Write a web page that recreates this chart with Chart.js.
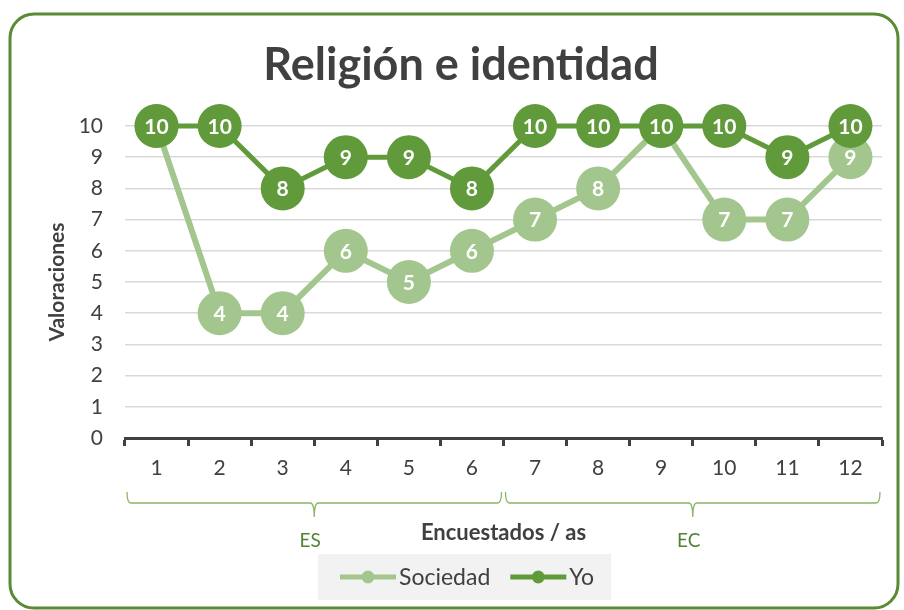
<!DOCTYPE html>
<html>
<head>
<meta charset="utf-8">
<script src="https://cdn.jsdelivr.net/npm/chart.js@4.4.1/dist/chart.umd.min.js"></script>
<style>
  html, body { margin: 0; padding: 0; background: #fff; }
  #wrap { width: 904px; height: 610px; }
</style>
</head>
<body>
<div id="wrap"><canvas id="grafico" width="904" height="610"></canvas></div>
<script>
// Datos del gráfico
const encuestados = ['1', '2', '3', '4', '5', '6', '7', '8', '9', '10', '11', '12'];
const sociedad = [10, 4, 4, 6, 5, 6, 7, 8, 10, 7, 7, 9];
const yo = [10, 10, 8, 9, 9, 8, 10, 10, 10, 10, 9, 10];
const valoracionTicks = [0, 1, 2, 3, 4, 5, 6, 7, 8, 9, 10];
const grupos = ['ES', 'EC'];
const grupoInicio = [0, 6];
const grupoFin = [5, 11];

const verdeOscuro = '#619a3b';
const verdeClaro = '#a3c68e';
const gris = '#404040';
const fuente = 'Lato, "Open Sans", sans-serif';

// Marco redondeado
const marco = {
    id: 'marco',
    beforeDraw(chart) {
        const ctx = chart.ctx;
        ctx.save();
        ctx.strokeStyle = '#5b8a35';
        ctx.lineWidth = 3;
        ctx.beginPath();
        ctx.roundRect(10, 14, 888, 594, 24);
        ctx.stroke();
        ctx.restore();
    }
};

// Leyenda dibujada a mano (línea con punto + texto)
const leyenda = {
    id: 'leyenda',
    afterDraw(chart) {
        const ctx = chart.ctx;
        const sets = chart.data.datasets;
        const y = 577;
        ctx.save();
        ctx.font = '23px ' + fuente;
        ctx.textBaseline = 'middle';
        ctx.textAlign = 'left';

        // calcular ancho total para el fondo gris
        let x = 340;
        const pos = [];
        sets.forEach((ds, i) => {
            const w = ctx.measureText(ds.label).width;
            pos.push({ x: x, w: w });
            x += 56 + 3 + w + 20;
        });
        const fin = x - 20 + 17;
        ctx.fillStyle = '#f2f2f2';
        ctx.fillRect(318, y - 23, fin - 318, 46);

        sets.forEach((ds, i) => {
            const p = pos[i];
            ctx.strokeStyle = ds.borderColor;
            ctx.lineWidth = 5;
            ctx.beginPath();
            ctx.moveTo(p.x, y);
            ctx.lineTo(p.x + 56, y);
            ctx.stroke();
            ctx.fillStyle = ds.borderColor;
            ctx.beginPath();
            ctx.arc(p.x + 28, y, 6.5, 0, Math.PI * 2);
            ctx.fill();
            ctx.fillStyle = gris;
            ctx.fillText(ds.label, p.x + 59, y + 1);
        });
        ctx.restore();
    }
};

// Etiquetas de datos dentro de los círculos
const etiquetas = {
    id: 'etiquetas',
    afterDatasetDraw(chart, args) {
        const ctx = chart.ctx;
        const datos = chart.data.datasets[args.index].data;
        ctx.save();
        ctx.fillStyle = '#ffffff';
        ctx.font = 'bold 21px ' + fuente;
        ctx.textAlign = 'center';
        ctx.textBaseline = 'middle';
        args.meta.data.forEach((p, i) => {
            ctx.fillText(String(datos[i]), p.x, p.y + 1);
        });
        ctx.restore();
    }
};

// Llaves de los grupos ES / EC debajo del eje
const llaves = {
    id: 'llaves',
    afterDraw(chart) {
        const ctx = chart.ctx;
        const x = chart.scales.x;
        const y = 503;
        ctx.save();
        ctx.strokeStyle = '#86b565';
        ctx.lineWidth = 1.3;
        ctx.fillStyle = '#548235';
        ctx.font = '19px ' + fuente;
        ctx.textAlign = 'center';
        ctx.textBaseline = 'middle';
        grupos.forEach((nombre, i) => {
            const x0 = x.getPixelForValue(grupoInicio[i] - 0.5) + 2;
            const x1 = x.getPixelForValue(grupoFin[i] + 0.5) - 2;
            const m = (x0 + x1) / 2;
            ctx.beginPath();
            ctx.moveTo(x0, y - 11);
            ctx.quadraticCurveTo(x0, y, x0 + 4, y);
            ctx.lineTo(m - 4, y);
            ctx.quadraticCurveTo(m, y, m, y + 14);
            ctx.quadraticCurveTo(m, y, m + 4, y);
            ctx.lineTo(x1 - 4, y);
            ctx.quadraticCurveTo(x1, y, x1, y - 11);
            ctx.stroke();
            ctx.fillText(nombre, m - 4, 541);
        });
        ctx.restore();
    }
};

const ctx = document.getElementById('grafico').getContext('2d');
const chart = new Chart(ctx, {
    type: 'line',
    data: {
        labels: encuestados,
        datasets: [{
            label: 'Sociedad',
            data: sociedad,
            borderColor: verdeClaro,
            backgroundColor: verdeClaro,
            borderWidth: 6,
            pointRadius: 22,
            pointHoverRadius: 22,
            pointBorderWidth: 0,
            pointBackgroundColor: verdeClaro,
            clip: false,
            order: 2
        }, {
            label: 'Yo',
            data: yo,
            borderColor: verdeOscuro,
            backgroundColor: verdeOscuro,
            borderWidth: 5,
            pointRadius: 22,
            pointHoverRadius: 22,
            pointBorderWidth: 0,
            pointBackgroundColor: verdeOscuro,
            clip: false,
            order: 1
        }]
    },
    options: {
        responsive: false,
        animation: false,
        layout: { padding: { left: 36, right: 18, top: 0, bottom: 55 } },
        plugins: {
            title: {
                display: true,
                text: 'Religión e identidad',
                color: gris,
                font: { family: fuente, size: 45, weight: 'bold' },
                padding: { top: 38, bottom: 34 }
            },
            legend: { display: false },
            tooltip: { enabled: false }
        },
        scales: {
            x: {
                offset: true,
                afterFit: s => { s.height = 117; },
                grid: {
                    offset: true,
                    drawOnChartArea: false,
                    drawTicks: true,
                    tickLength: 8,
                    tickWidth: 3,
                    tickColor: gris
                },
                border: { color: gris, width: 3 },
                ticks: {
                    color: gris,
                    padding: 10,
                    font: { family: fuente, size: 21 }
                },
                title: {
                    display: true,
                    text: 'Encuestados / as',
                    color: gris,
                    font: { family: fuente, size: 22, weight: 'bold' },
                    padding: { bottom: 9 }
                }
            },
            y: {
                min: 0,
                max: 10,
                afterFit: s => { s.width = 89; },
                afterBuildTicks: s => { s.ticks = valoracionTicks.map(v => ({ value: v })); },
                grid: { color: '#d9d9d9', lineWidth: 1.5, drawTicks: false },
                border: { display: false },
                ticks: {
                    color: gris,
                    padding: 22,
                    font: { family: fuente, size: 21 }
                },
                title: {
                    display: true,
                    text: 'Valoraciones',
                    color: gris,
                    font: { family: fuente, size: 21, weight: 'bold' },
                    padding: { top: 8.4 }
                }
            }
        }
    },
    plugins: [marco, etiquetas, llaves, leyenda]
});
</script>
</body>
</html>
